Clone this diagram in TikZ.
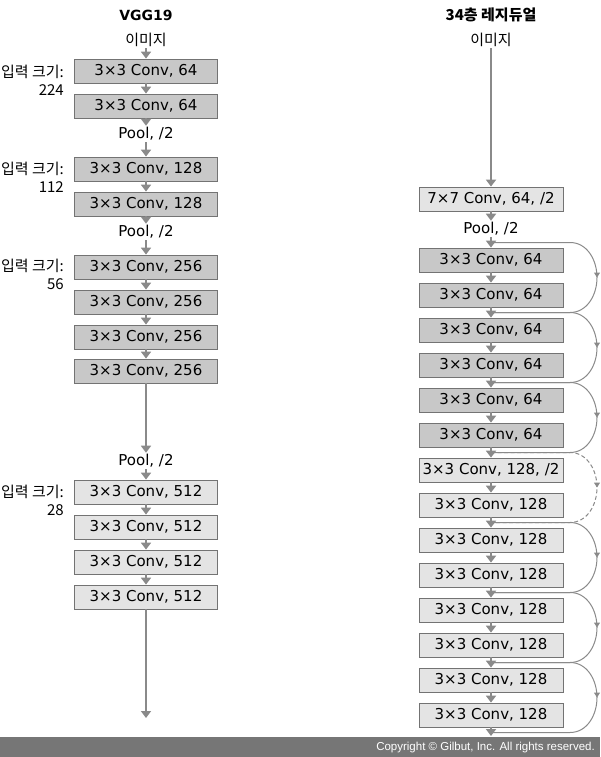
\documentclass[tikz,border=0pt]{standalone}
\usepackage{fontspec}
\setmainfont{DejaVu Sans}
\newfontfamily\kr{Noto Sans CJK KR}
\newfontfamily\cpfont{Liberation Sans}
\usetikzlibrary{arrows.meta,decorations.markings}
\definecolor{linegray}{HTML}{8A8A8A}
\definecolor{boxdark}{HTML}{C8C8C8}
\definecolor{boxlight}{HTML}{E4E4E4}
\definecolor{bargray}{HTML}{767676}
\begin{document}
\begin{tikzpicture}[x=1pt,y=1pt,
  convbox/.style={draw=black!55,line width=0.8pt,fill=boxdark,minimum width=143pt,minimum height=24pt,inner sep=0pt,font=\fontsize{15}{18}\selectfont},
  convboxlt/.style={convbox,fill=boxlight},
  txt/.style={font=\fontsize{15}{18}\selectfont,inner sep=1.5pt},
  krtxt/.style={font=\kr\fontsize{15}{18}\selectfont,inner sep=1.5pt},
  sizelbl/.style={font=\kr\fontsize{15}{18}\selectfont,inner sep=0pt,anchor=east},
  arr/.style={draw=linegray,line width=1.8pt,-{Triangle[width=10pt,length=7pt]}},
  skip/.style={draw=linegray,line width=1pt,postaction={decorate},
    decoration={markings,mark=at position 0.5 with {\arrow[linegray]{Triangle[width=6pt,length=5pt]}}}}]
\useasboundingbox (0,0) rectangle (600,-757);

% titles
\node[font=\bfseries\fontsize{14}{17}\selectfont] (vggtitle) at (146,-15) {VGG19};
\node[font=\kr\bfseries\fontsize{15}{18}\selectfont] (restitle) at (491,-15) {34층 레지듀얼};

% VGG19
\node[krtxt] (vimg) at (146,-40) {이미지};
\node[convbox] (a1) at (146,-71) {3×3 Conv, 64};
\node[convbox] (a2) at (146,-106) {3×3 Conv, 64};
\node[txt] (vp1) at (146,-134) {Pool, /2};
\node[convbox] (a3) at (146,-169) {3×3 Conv, 128};
\node[convbox] (a4) at (146,-204) {3×3 Conv, 128};
\node[txt] (vp2) at (146,-232) {Pool, /2};
\node[convbox] (a5) at (146,-267) {3×3 Conv, 256};
\node[convbox] (a6) at (146,-302) {3×3 Conv, 256};
\node[convbox] (a7) at (146,-337) {3×3 Conv, 256};
\node[convbox] (a8) at (146,-371) {3×3 Conv, 256};
\node[txt] (vp3) at (146,-461) {Pool, /2};
\node[convboxlt] (a9) at (146,-492) {3×3 Conv, 512};
\node[convboxlt] (a10) at (146,-527) {3×3 Conv, 512};
\node[convboxlt] (a11) at (146,-562) {3×3 Conv, 512};
\node[convboxlt] (a12) at (146,-597) {3×3 Conv, 512};
\coordinate (vend) at (146,-718);

\draw[arr] (vimg) -- (a1);
\draw[arr] (a1) -- (a2);
\draw[arr] (a2) -- (vp1);
\draw[arr] (vp1) -- (a3);
\draw[arr] (a3) -- (a4);
\draw[arr] (a4) -- (vp2);
\draw[arr] (vp2) -- (a5);
\draw[arr] (a5) -- (a6);
\draw[arr] (a6) -- (a7);
\draw[arr] (a7) -- (a8);
\draw[arr] (a8) -- (vp3);
\draw[arr] (vp3) -- (a9);
\draw[arr] (a9) -- (a10);
\draw[arr] (a10) -- (a11);
\draw[arr] (a11) -- (a12);
\draw[arr] (a12) -- (vend);

% input sizes
\node[sizelbl] (in1) at (64,-72) {입력 크기:};
\node[sizelbl] (in1n) at (64,-90) {224};
\node[sizelbl] (in2) at (64,-169) {입력 크기:};
\node[sizelbl] (in2n) at (64,-187) {112};
\node[sizelbl] (in3) at (64,-266) {입력 크기:};
\node[sizelbl] (in3n) at (64,-284) {56};
\node[sizelbl] (in4) at (64,-492) {입력 크기:};
\node[sizelbl] (in4n) at (64,-510) {28};

% 34-layer residual
\node[krtxt] (rimg) at (491,-40) {이미지};
\node[convboxlt,minimum width=144pt] (r0) at (491,-199) {7×7 Conv, 64, /2};
\node[txt] (rp1) at (491,-229) {Pool, /2};
\node[convbox,minimum width=144pt] (r1) at (491,-260) {3×3 Conv, 64};
\node[convbox,minimum width=144pt] (r2) at (491,-295) {3×3 Conv, 64};
\node[convbox,minimum width=144pt] (r3) at (491,-330) {3×3 Conv, 64};
\node[convbox,minimum width=144pt] (r4) at (491,-365) {3×3 Conv, 64};
\node[convbox,minimum width=144pt] (r5) at (491,-400) {3×3 Conv, 64};
\node[convbox,minimum width=144pt] (r6) at (491,-435) {3×3 Conv, 64};
\node[convboxlt,minimum width=144pt] (r7) at (491,-470) {3×3 Conv, 128, /2};
\node[convboxlt,minimum width=144pt] (r8) at (491,-505) {3×3 Conv, 128};
\node[convboxlt,minimum width=144pt] (r9) at (491,-540) {3×3 Conv, 128};
\node[convboxlt,minimum width=144pt] (r10) at (491,-575) {3×3 Conv, 128};
\node[convboxlt,minimum width=144pt] (r11) at (491,-610) {3×3 Conv, 128};
\node[convboxlt,minimum width=144pt] (r12) at (491,-645) {3×3 Conv, 128};
\node[convboxlt,minimum width=144pt] (r13) at (491,-680) {3×3 Conv, 128};
\node[convboxlt,minimum width=144pt] (r14) at (491,-715) {3×3 Conv, 128};
\coordinate (rend) at (491,-736);

\draw[arr] (rimg) -- (r0);
\draw[arr] (r0) -- (rp1);
\draw[arr] (rp1) -- (r1);
\draw[arr] (r1) -- (r2);
\draw[arr] (r2) -- (r3);
\draw[arr] (r3) -- (r4);
\draw[arr] (r4) -- (r5);
\draw[arr] (r5) -- (r6);
\draw[arr] (r6) -- (r7);
\draw[arr] (r7) -- (r8);
\draw[arr] (r8) -- (r9);
\draw[arr] (r9) -- (r10);
\draw[arr] (r10) -- (r11);
\draw[arr] (r11) -- (r12);
\draw[arr] (r12) -- (r13);
\draw[arr] (r13) -- (r14);
\draw[arr] (r14) -- (rend);

% shortcuts
\coordinate (j0) at (491,-242.5);
\coordinate (j1) at (491,-312.5);
\coordinate (j2) at (491,-382.5);
\coordinate (j3) at (491,-452.5);
\coordinate (j4) at (491,-522.5);
\coordinate (j5) at (491,-592.5);
\coordinate (j6) at (491,-662.5);
\coordinate (j7) at (491,-732.5);
\draw[skip] (j0) -- ++(79,0) to[out=0,in=90] ++(27,-35) to[out=-90,in=0] ++(-27,-35) -- (j1);
\draw[skip] (j1) -- ++(79,0) to[out=0,in=90] ++(27,-35) to[out=-90,in=0] ++(-27,-35) -- (j2);
\draw[skip] (j2) -- ++(79,0) to[out=0,in=90] ++(27,-35) to[out=-90,in=0] ++(-27,-35) -- (j3);
\draw[skip,dash pattern=on 4pt off 2.5pt] (j3) -- ++(79,0) to[out=0,in=90] ++(27,-35) to[out=-90,in=0] ++(-27,-35) -- (j4);
\draw[skip] (j4) -- ++(79,0) to[out=0,in=90] ++(27,-35) to[out=-90,in=0] ++(-27,-35) -- (j5);
\draw[skip] (j5) -- ++(79,0) to[out=0,in=90] ++(27,-35) to[out=-90,in=0] ++(-27,-35) -- (j6);
\draw[skip] (j6) -- ++(79,0) to[out=0,in=90] ++(27,-35) to[out=-90,in=0] ++(-27,-35) -- (j7);

% copyright bar
\fill[bargray] (0,-737) rectangle (600,-757);
\node[anchor=east,text=white,inner sep=0pt,font=\cpfont\fontsize{11.5}{13}\selectfont] (copy) at (595,-747.5) {Copyright © Gilbut, Inc. All rights reserved.};
\end{tikzpicture}
\end{document}
